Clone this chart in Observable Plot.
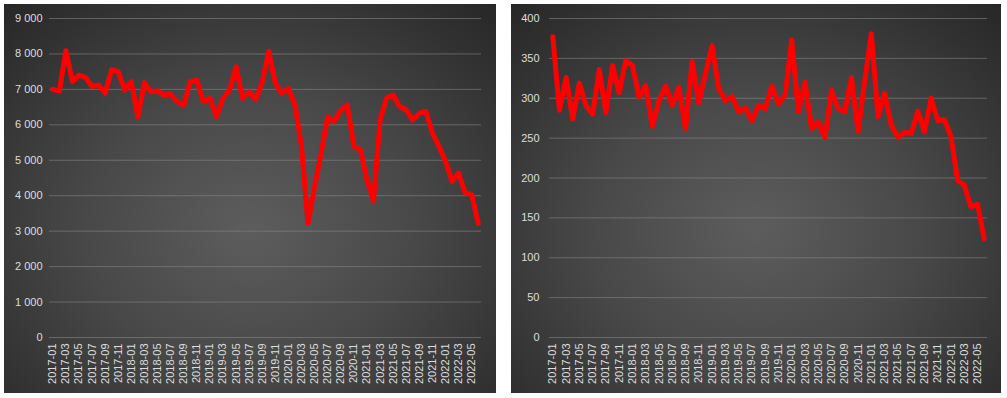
<!DOCTYPE html>
<html>
<head>
<meta charset="utf-8">
<script src="https://cdn.jsdelivr.net/npm/d3@7"></script>
<script src="https://cdn.jsdelivr.net/npm/@observablehq/plot@0.6"></script>
<style>
  html, body { margin: 0; padding: 0; background: #ffffff; }
  #wrap { position: relative; width: 1007px; height: 398px; }
  .panel { position: absolute; top: 4px; }
  .panel svg { display: block; }
</style>
</head>
<body>
<div id="wrap">
  <div class="panel" id="left" style="left:4px"></div>
  <div class="panel" id="right" style="left:511px"></div>
</div>
<script>
const months = [];
for (let y = 2017; y <= 2022; y++) {
  for (let m = 1; m <= 12; m++) {
    if (y === 2022 && m > 6) break;
    months.push(`${y}-${String(m).padStart(2, "0")}`);
  }
}
const monthTicks = months.filter((d, i) => i % 2 === 0);

const leftValues = [
  7000, 6950, 8090, 7220, 7400, 7340, 7080, 7120, 6890, 7560,
  7500, 6980, 7220, 6230, 7190, 6930, 6960, 6840, 6870, 6650,
  6560, 7220, 7260, 6650, 6750, 6230, 6750, 6980, 7640, 6750,
  6930, 6710, 7210, 8070, 7170, 6890, 7030, 6560, 5390, 3220,
  4260, 5200, 6220, 6090, 6420, 6560, 5390, 5300, 4450, 3850,
  6140, 6750, 6840, 6520, 6420, 6140, 6330, 6380, 5770, 5390,
  4970, 4400, 4640, 4080, 4030, 3220
];
const rightValues = [
  377, 285, 326, 274, 319, 291, 280, 336, 282, 341,
  307, 347, 341, 301, 316, 265, 297, 315, 291, 314,
  262, 346, 294, 331, 366, 312, 297, 302, 283, 288,
  272, 291, 287, 315, 293, 304, 373, 283, 320, 262,
  270, 251, 310, 287, 283, 326, 258, 322, 381, 277,
  306, 266, 251, 257, 256, 284, 258, 300, 272, 273,
  252, 197, 191, 164, 167, 124
];
const leftTicks = [0, 1000, 2000, 3000, 4000, 5000, 6000, 7000, 8000, 9000];
const rightTicks = [0, 50, 100, 150, 200, 250, 300, 350, 400];

const fmt = d => d3.format(",")(d).replace(/,/g, " ");

function panel(values, yTicks, opts) {
  const data = months.map((m, i) => ({month: m, value: values[i]}));
  return Plot.plot({
    width: opts.width,
    height: 389,
    marginLeft: opts.marginLeft,
    marginRight: opts.marginRight,
    marginTop: 14,
    marginBottom: 56,
    style: {
      background: "radial-gradient(ellipse 75% 80% at 50% 58%, #5d5d5d 0%, #484848 45%, #2f2f2f 85%, #262626 100%)",
      fontFamily: "'Liberation Sans', Arial, sans-serif",
      fontSize: "11px",
      color: "#dedede",
      overflow: "visible"
    },
    x: {type: "point", domain: months, padding: 0.5},
    y: {domain: [0, yTicks[yTicks.length - 1]]},
    marks: [
      Plot.gridY(yTicks, {stroke: "#8a8a8a", strokeOpacity: 0.55, strokeWidth: 1}),
      Plot.axisY(yTicks, {tickSize: 0, tickPadding: opts.yPad, tickFormat: fmt, label: null, fill: "#dedede", fontSize: 11}),
      Plot.axisX(monthTicks, {tickSize: 0, tickPadding: 6, tickRotate: -90, label: null, fill: "#dedede", fontSize: 11}),
      Plot.line(data, {x: "month", y: "value", stroke: "#ff0000", strokeWidth: 5, strokeLinejoin: "round", strokeLinecap: "round"})
    ]
  });
}

document.getElementById("left").appendChild(
  panel(leftValues, leftTicks, {width: 492, marginLeft: 45, marginRight: 15, yPad: 7})
);
document.getElementById("right").appendChild(
  panel(rightValues, rightTicks, {width: 490, marginLeft: 38, marginRight: 14, yPad: 10})
);
</script>
</body>
</html>
